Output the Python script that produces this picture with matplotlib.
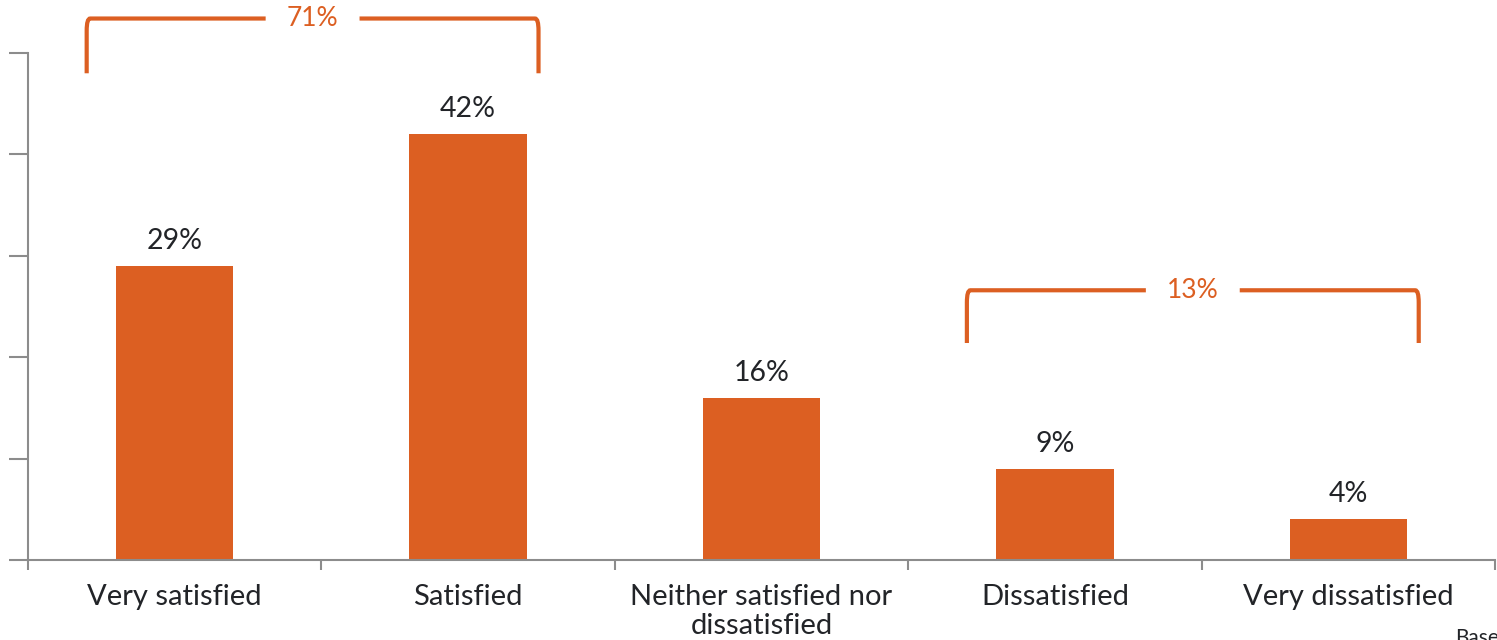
import numpy as np
import matplotlib.pyplot as plt
from matplotlib.path import Path
from matplotlib.patches import PathPatch

# Datos
categories = ["Very satisfied", "Satisfied", "Neither satisfied nor\ndissatisfied",
              "Dissatisfied", "Very dissatisfied"]
values = [29, 42, 16, 9, 4]
group_labels = ["71%", "13%"]
group_ranges = [(0, 1), (3, 4)]

ORANGE = "#DC5F22"
DARK = "#222428"
GREY = "#8C8C8C"

plt.rcParams["font.family"] = ["Lato", "DejaVu Sans"]

fig = plt.figure(figsize=(14.97, 6.4), dpi=100)
ax = fig.add_axes([28 / 1497, 80 / 640, (1495 - 28) / 1497, (560 - 53) / 640])

x = np.arange(len(categories))
bars = ax.bar(x, values, width=0.4, color=ORANGE, zorder=2)

for xi, v in zip(x, values):
    ax.text(xi, v + 1.2, f"{v}%", ha="center", va="bottom", fontsize=20.5, color=DARK)

ax.set_xlim(-0.5, len(categories) - 0.5)
ax.set_ylim(0, 50)
ax.set_yticks(np.arange(0, 51, 10))
ax.set_yticklabels([])
ax.set_xticks(np.arange(-0.5, len(categories), 1.0))
ax.set_xticklabels([])
ax.set_xticks(x, minor=True)
ax.set_xticklabels(categories, minor=True, fontsize=21, color=DARK, linespacing=1.15)
ax.tick_params(axis="x", which="minor", length=0, pad=17)
ax.tick_params(axis="x", which="major", length=7, width=1.5, color=GREY, direction="out")
ax.tick_params(axis="y", length=14, width=1.5, color=GREY, direction="out")

for s in ["top", "right"]:
    ax.spines[s].set_visible(False)
for s in ["left", "bottom"]:
    ax.spines[s].set_color(GREY)
    ax.spines[s].set_linewidth(1.5)

# Llaves de agrupación
bracket_specs = [(53.4, 48.0), (26.6, 21.4)]
for (i, j), lab, (top, bot) in zip(group_ranges, group_labels, bracket_specs):
    x0, x1 = i - 0.3, j + 0.24
    xm = (x0 + x1) / 2
    gap = 0.16
    r = 0.012
    verts = [(x0, bot), (x0, top - 1.2), (x0, top), (x0 + r, top), (xm - gap, top)]
    codes = [Path.MOVETO, Path.LINETO, Path.CURVE3, Path.CURVE3, Path.LINETO]
    ax.add_patch(PathPatch(Path(verts, codes), fill=False, ec=ORANGE, lw=3,
                           clip_on=False, capstyle="butt"))
    verts = [(xm + gap, top), (x1 - r, top), (x1, top), (x1, top - 1.2), (x1, bot)]
    codes = [Path.MOVETO, Path.LINETO, Path.CURVE3, Path.CURVE3, Path.LINETO]
    ax.add_patch(PathPatch(Path(verts, codes), fill=False, ec=ORANGE, lw=3,
                           clip_on=False, capstyle="butt"))
    ax.text(xm, top, lab, ha="center", va="center", fontsize=19, color=ORANGE,
            clip_on=False)

fig.text(1455 / 1497, -8 / 640, "Base", fontsize=15, color=DARK, ha="left", va="bottom")

fig.savefig("out.png", dpi=100)
